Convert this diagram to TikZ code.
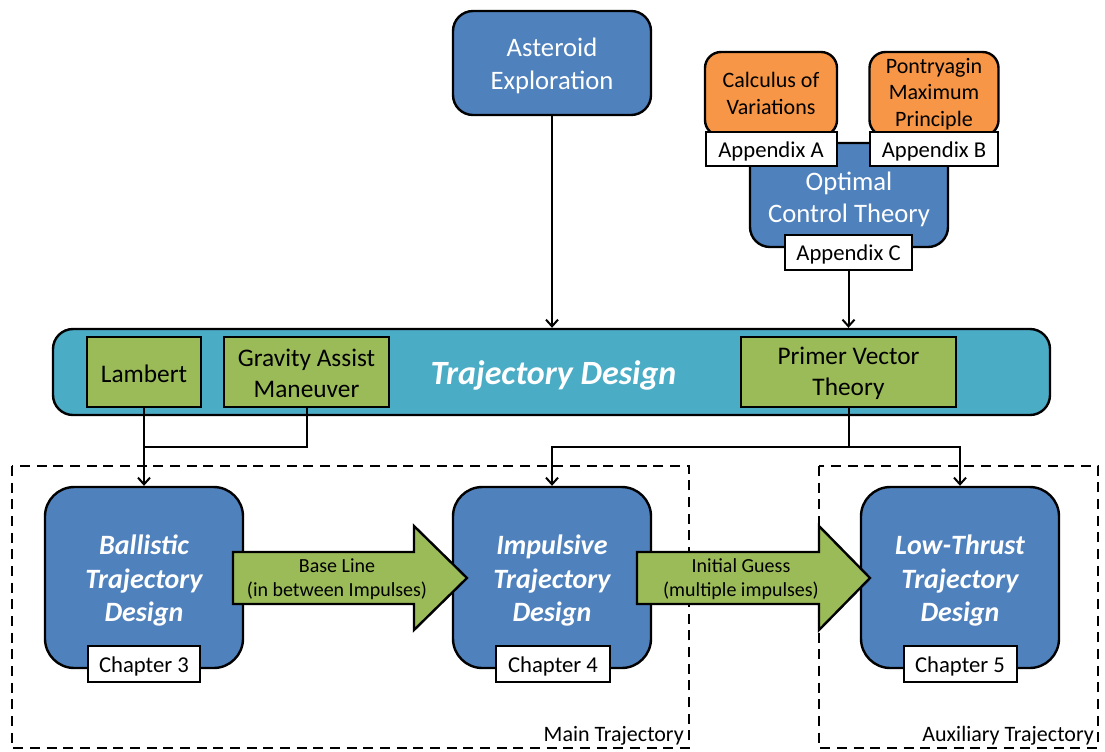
\documentclass[tikz,border=0pt]{standalone}
\usepackage{fontspec}
\setmainfont{Carlito}
\usetikzlibrary{arrows.meta}
\definecolor{cblue}{HTML}{4F81BD}
\definecolor{ccyan}{HTML}{4BACC6}
\definecolor{cgreen}{HTML}{9BBB59}
\definecolor{corange}{HTML}{F79646}
\def\PX#1{#1*0.75pt}
\tikzset{
  box/.style={draw=black, line width=1.8pt, inner sep=0pt},
  bluebox/.style={box, fill=cblue, rounded corners=15pt},
  bigblue/.style={box, fill=cblue, rounded corners=22pt,
    minimum width=\PX{198}, minimum height=\PX{181}},
  orangebox/.style={box, fill=corange, rounded corners=12pt},
  whitebox/.style={box, fill=white, line width=1.5pt},
  greenbox/.style={box, fill=cgreen},
  txt/.style={inner sep=0pt, align=center},
  bigtxt/.style={txt, text=white, font=\fontsize{21pt}{25pt}\selectfont\bfseries\itshape},
  oratxt/.style={txt, font=\fontsize{16.5pt}{20pt}\selectfont},
  whtxt/.style={txt, font=\fontsize{17pt}{20pt}\selectfont},
  grtxt/.style={txt, font=\fontsize{19pt}{23pt}\selectfont},
  arr/.style={line width=1.5pt, -{Straight Barb[length=5pt,width=9pt,line width=1.5pt]}},
  conn/.style={line width=1.5pt},
  dashbox/.style={draw=black, line width=1.5pt, dash pattern=on 7.5pt off 5pt},
  blockarrow/.style={draw=black, line width=1.8pt, fill=cgreen, line join=miter},
  arrlabel/.style={align=center, inner sep=0pt, font=\fontsize{15pt}{18pt}\selectfont},
  grouplabel/.style={inner sep=0pt, font=\fontsize{16.5pt}{20pt}\selectfont}
}
\begin{document}
\begin{tikzpicture}[x=0.75pt,y=-0.75pt]
\useasboundingbox (0,0) rectangle (1105,751);
% dashed groups
\draw[dashbox] (12,466) rectangle (689,748);
\draw[dashbox] (819,466) rectangle (1098,748);
\node[grouplabel, anchor=base east] (mainlbl) at (684,741) {Main Trajectory};
\node[grouplabel, anchor=base east] (auxlbl) at (1094,741) {Auxiliary Trajectory};
% top
\node[bluebox, minimum width=\PX{198}, minimum height=\PX{104}] (ast) at (552,63) {};
\node[txt, text=white, font=\fontsize{20pt}{24.75pt}\selectfont] (astT) at ([yshift=-2.25pt]ast.center) {Asteroid\\Exploration};
\node[orangebox, minimum width=\PX{132}, minimum height=\PX{84}] (calc) at (771,94) {};
\node[oratxt] (calcT) at ([yshift=0.5pt]calc.center) {Calculus of\\Variations};
\node[orangebox, minimum width=\PX{129}, minimum height=\PX{84}] (pont) at (934,94) {};
\node[oratxt] (pontT) at (pont.center) {Pontryagin\\Maximum\\Principle};
\node[bluebox, minimum width=\PX{198}, minimum height=\PX{104}] (oct) at (849,195) {};
\node[txt, text=white, font=\fontsize{20pt}{24pt}\selectfont] (octT) at ([yshift=-3pt]oct.center) {Optimal\\Control Theory};
\node[whitebox, minimum width=\PX{131}, minimum height=\PX{34}] (appA) at (771,149) {};
\node[whtxt] (appAT) at ([yshift=-1.5pt]appA.center) {Appendix A};
\node[whitebox, minimum width=\PX{128}, minimum height=\PX{34}] (appB) at (934,149) {};
\node[whtxt] (appBT) at ([yshift=-1.5pt]appB.center) {Appendix B};
\node[whitebox, minimum width=\PX{127}, minimum height=\PX{35}] (appC) at (848.5,252.5) {};
\node[whtxt] (appCT) at ([yshift=-1.5pt]appC.center) {Appendix C};
% band
\node[box, fill=ccyan, rounded corners=15pt, minimum width=\PX{997}, minimum height=\PX{86}] (td) at (551.5,372) {};
\node[txt, text=white, font=\fontsize{25.5pt}{30pt}\selectfont\bfseries\itshape] (tdT) at ([xshift=1.5pt,yshift=-2.25pt]td.center) {Trajectory Design};
\node[greenbox, minimum width=\PX{114}, minimum height=\PX{70}] (lam) at (144,372) {};
\node[grtxt] (lamT) at ([yshift=-1.5pt]lam.center) {Lambert};
\node[greenbox, minimum width=\PX{165}, minimum height=\PX{70}] (grav) at (306.5,372) {};
\node[grtxt] (gravT) at ([yshift=-1.2pt]grav.center) {Gravity Assist\\Maneuver};
\node[greenbox, minimum width=\PX{215}, minimum height=\PX{70}] (primer) at (848.5,372) {};
\node[grtxt] (primerT) at ([yshift=-1.2pt]primer.center) {Primer Vector\\Theory};
% bottom boxes
\node[bigblue] (bal) at (144,577.5) {};
\node[bigtxt] (balT) at ([yshift=-2.5pt]bal.center) {Ballistic\\Trajectory\\Design};
\node[bigblue] (imp) at (552,577.5) {};
\node[bigtxt] (impT) at ([yshift=-2.5pt]imp.center) {Impulsive\\Trajectory\\Design};
\node[bigblue] (low) at (960,577.5) {};
\node[bigtxt] (lowT) at ([yshift=-2.5pt]low.center) {Low-Thrust\\Trajectory\\Design};
\node[whitebox, minimum width=\PX{112}, minimum height=\PX{36}] (ch3) at (144,664) {};
\node[whtxt] (ch3T) at ([yshift=-2pt]ch3.center) {Chapter 3};
\node[whitebox, minimum width=\PX{114}, minimum height=\PX{36}] (ch4) at (553,664) {};
\node[whtxt] (ch4T) at ([yshift=-2pt]ch4.center) {Chapter 4};
\node[whitebox, minimum width=\PX{113}, minimum height=\PX{36}] (ch5) at (960,664) {};
\node[whtxt] (ch5T) at ([yshift=-2pt]ch5.center) {Chapter 5};
% block arrows
\draw[blockarrow] (233,552) -- (414,552) -- (414,526) -- (467,578) -- (414,630) -- (414,604) -- (233,604) -- cycle;
\node[arrlabel] (lbl1) at (337,579) {Base Line\\(in between Impulses)};
\draw[blockarrow] (637,552) -- (819,552) -- (819,526) -- (870,578) -- (819,630) -- (819,604) -- (637,604) -- cycle;
\node[arrlabel] (lbl2) at (741,579) {Initial Guess\\(multiple impulses)};
% connectors
\coordinate (j1) at (144,447);
\coordinate (j2) at (848.5,447);
\draw[arr] (ast.south) -- (ast.south |- td.north);
\draw[arr] (appC.south) -- (appC.south |- td.north);
\draw[arr] (lam.south) -- (bal.north);
\draw[conn] (grav.south) |- (j1);
\draw[conn] (primer.south) -- (j2);
\draw[arr] (j2) -| (imp.north);
\draw[arr] (j2) -| (low.north);
\end{tikzpicture}
\end{document}
